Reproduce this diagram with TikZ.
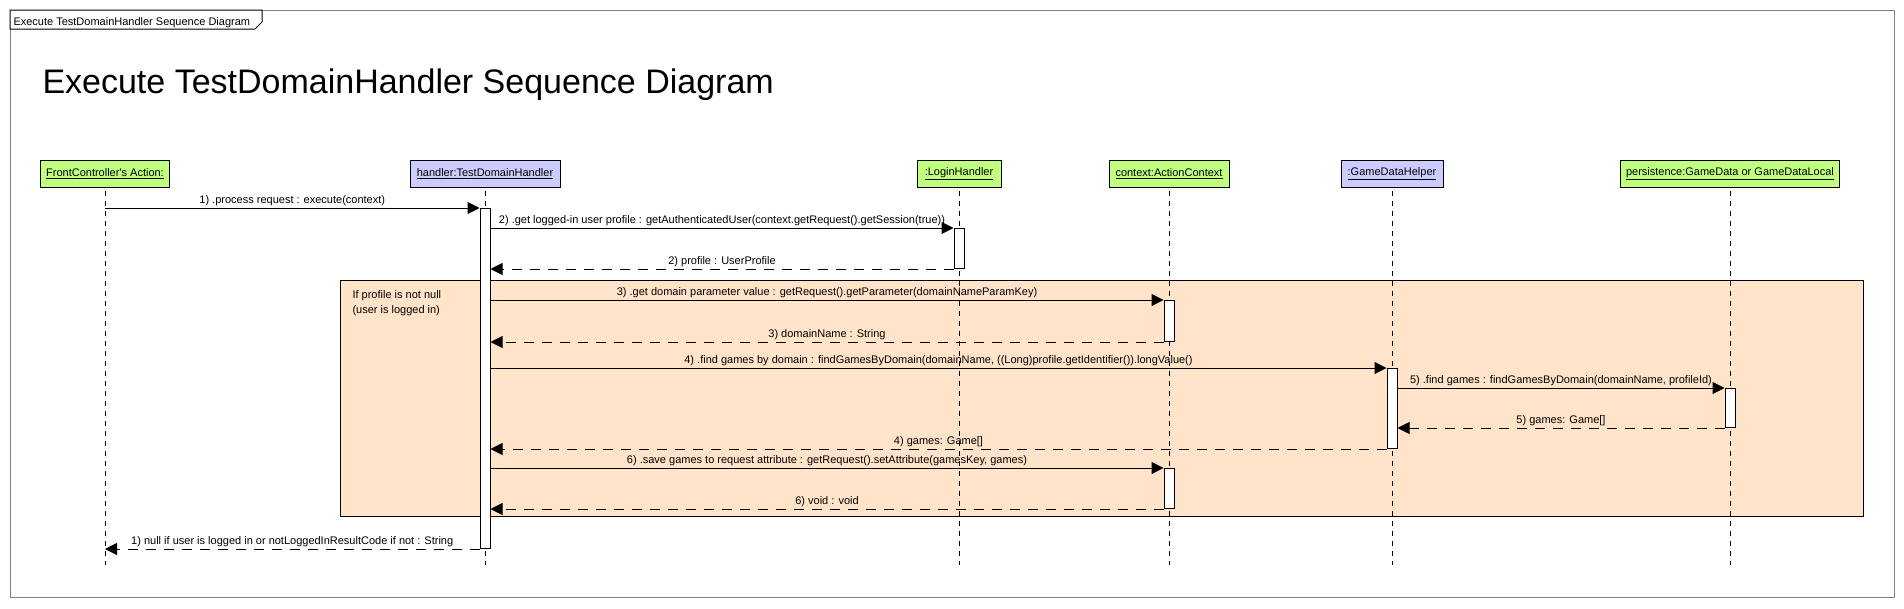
\documentclass[tikz,border=0pt]{standalone}
\usepackage{fontspec}
\setmainfont{Liberation Sans}
\usetikzlibrary{arrows.meta}
\definecolor{objgreen}{RGB}{192,255,128}
\definecolor{objblue}{RGB}{204,204,255}
\definecolor{fragfill}{RGB}{255,228,202}
\definecolor{framegray}{RGB}{128,128,128}
\tikzset{
  every node/.style={font=\fontsize{11}{13}\selectfont},
  obj/.style={draw=black, rectangle, minimum height=27pt, inner sep=0pt, anchor=north},
  act/.style={draw=black, fill=white, rectangle, minimum width=10pt, inner sep=0pt, anchor=north},
  life/.style={draw=black, line width=1pt, dash pattern=on 5pt off 5pt},
  msg/.style={draw=black, line width=1pt, -{Triangle[length=12pt,width=12pt]}},
  ret/.style={msg, dash pattern=on 10pt off 8pt},
  lbl/.style={anchor=base, inner sep=0pt, yshift=5pt},
}
\begin{document}
\begin{tikzpicture}[x=1pt, y=-1pt, line width=1pt]
\useasboundingbox (0,0) rectangle (1904,608);
% outer frame and tab
\node[draw=framegray, rectangle, minimum width=1884pt, minimum height=587pt, inner sep=0pt, anchor=north west] (frame) at (10,10) {};
\draw[black, fill=white] (10,10) -- (262,10) -- (262,22) -- (255,29) -- (10,29) -- cycle;
\node[anchor=base west, inner sep=0pt] (tabtxt) at (13,25) {Execute TestDomainHandler Sequence Diagram};
% title
\node[anchor=base west, inner sep=0pt, font=\fontsize{34}{40}\selectfont] (title) at (42,93) {Execute TestDomainHandler Sequence Diagram};
% combined fragment
\node[draw=black, fill=fragfill, rectangle, minimum width=1523pt, minimum height=236pt, inner sep=0pt, anchor=north west] (frag) at (340,280) {};
\node[anchor=base west, inner sep=0pt] (fragtxtA) at (352,298) {If profile is not null};
\node[anchor=base west, inner sep=0pt] (fragtxtB) at (352,313) {(user is logged in)};
% objects
\node[obj, fill=objgreen, minimum width=129pt] (fc) at (105,160) {\underline{FrontController\textquotesingle s Action:}};
\node[obj, fill=objblue, minimum width=150pt] (hd) at (485,160) {\underline{handler:TestDomainHandler}};
\node[obj, fill=objgreen, minimum width=84pt] (lh) at (959,160) {\underline{:LoginHandler}};
\node[obj, fill=objgreen, minimum width=120pt] (cx) at (1169,160) {\underline{context:ActionContext}};
\node[obj, fill=objblue, minimum width=102pt] (gd) at (1392,160) {\underline{:GameDataHelper}};
\node[obj, fill=objgreen, minimum width=219pt] (ps) at (1730,160) {\underline{persistence:GameData or GameDataLocal}};
% lifelines
\coordinate (lifeEnd) at (0,565);
\foreach \o in {fc,hd,lh,cx,gd,ps} {
  \draw[life] ([yshift=-3pt]\o.south) -- (\o.south |- lifeEnd);
}
% activation bars
\node[act, minimum height=340pt] (aH) at (485,208) {};
\node[act, minimum height=40pt] (aL) at (959,228) {};
\node[act, minimum height=41pt] (aC1) at (1169,300) {};
\node[act, minimum height=80pt] (aG) at (1392,368) {};
\node[act, minimum height=39pt] (aP) at (1730,388) {};
\node[act, minimum height=40pt] (aC2) at (1169,468) {};
% messages
\draw[msg] (fc.south |- aH.north) -- node[lbl]{1) .process request : execute(context)} (aH.north west);
\draw[msg] (aH.east |- aL.north west) -- node[lbl]{2) .get logged-in user profile : getAuthenticatedUser(context.getRequest().getSession(true))} (aL.north west);
\draw[ret] (aL.south west) -- node[lbl]{2) profile : UserProfile} (aH.east |- aL.south west);
\draw[msg] (aH.east |- aC1.north west) -- node[lbl]{3) .get domain parameter value : getRequest().getParameter(domainNameParamKey)} (aC1.north west);
\draw[ret] (aC1.south west) -- node[lbl]{3) domainName : String} (aH.east |- aC1.south west);
\draw[msg] (aH.east |- aG.north west) -- node[lbl]{4) .find games by domain : findGamesByDomain(domainName, ((Long)profile.getIdentifier()).longValue()} (aG.north west);
\draw[msg] (aG.east |- aP.north west) -- node[lbl]{5) .find games : findGamesByDomain(domainName, profileId)} (aP.north west);
\draw[ret] (aP.south west) -- node[lbl]{5) games: Game[]} (aG.east |- aP.south west);
\draw[ret] (aG.south west) -- node[lbl]{4) games: Game[]} (aH.east |- aG.south west);
\draw[msg] (aH.east |- aC2.north west) -- node[lbl]{6) .save games to request attribute : getRequest().setAttribute(gamesKey, games)} (aC2.north west);
\draw[ret] (aC2.south west) -- node[lbl]{6) void : void} (aH.east |- aC2.south west);
\draw[ret] (aH.south west) -- node[lbl]{1) null if user is logged in or notLoggedInResultCode if not : String} (fc.south |- aH.south);
\end{tikzpicture}
\end{document}
